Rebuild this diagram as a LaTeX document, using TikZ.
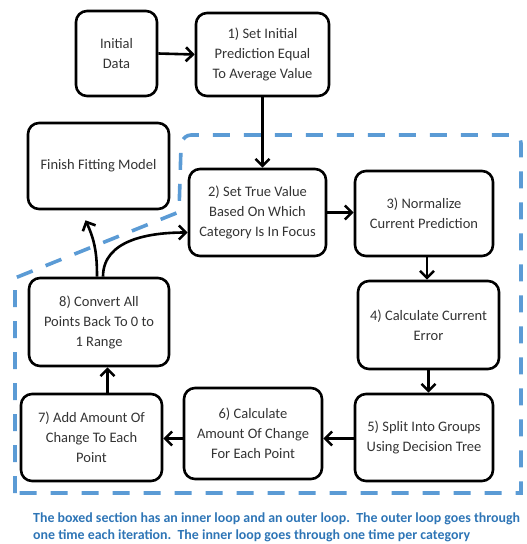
\documentclass[tikz,border=0pt]{standalone}
\usepackage{fontspec}
\setmainfont{Carlito}
\usetikzlibrary{arrows.meta}
\definecolor{loopblue}{RGB}{91,155,213}
\definecolor{noteblue}{RGB}{46,117,182}
\tikzset{
  stepbox/.style={draw, line width=2.6pt, rounded corners=11pt, align=center,
    inner sep=2pt, text=black!80, font=\fontsize{14.5}{20}\selectfont},
  flow/.style={line width=2.6pt, -{Straight Barb[length=7pt,width=14pt]}}
}

\begin{document}
\begin{tikzpicture}[x=1pt,y=-1pt]
\useasboundingbox (0,0) rectangle (527,544);
% the outer loop region
\draw[loopblue, line width=3.6pt, dash pattern=on 17pt off 14pt]
  (15,493) -- (15,278) -- (179,212) -- (181,147)
  [rounded corners=8pt] -- (183,135) -- (521,135) [sharp corners] -- (521,493) -- cycle;
% the steps
\node[stepbox, minimum width=81pt, minimum height=85pt] (data) at (116.5,53.5) {Initial\\Data};
\node[stepbox, minimum width=133pt, minimum height=83pt] (step1) at (262.5,54.5) {1) Set Initial\\Prediction Equal\\To Average Value};
\node[stepbox, minimum width=141pt, minimum height=86pt] (finish) at (98.5,166) {\raisebox{4pt}{Finish Fitting Model}};
\node[stepbox, minimum width=137pt, minimum height=87pt] (step2) at (257.5,212.5) {2) Set True Value\\Based On Which\\Category Is In Focus};
\node[stepbox, minimum width=138pt, minimum height=85pt] (step3) at (424,213.5) {3) Normalize\\Current Prediction};
\node[stepbox, minimum width=141pt, minimum height=88pt] (step4) at (428.5,325) {4) Calculate Current\\Error};
\node[stepbox, minimum width=140pt, minimum height=88pt] (step8) at (99,322) {8) Convert All\\Points Back To 0 to\\1 Range};
\node[stepbox, minimum width=141pt, minimum height=87pt] (step7) at (91.5,437.5) {7) Add Amount Of\\Change To Each\\Point};
\node[stepbox, minimum width=138pt, minimum height=91pt] (step6) at (253,433.5) {6) Calculate\\Amount Of Change\\For Each Point};
\node[stepbox, minimum width=138pt, minimum height=87pt] (step5) at (424,437.5) {5) Split Into Groups\\Using Decision Tree};
% connectors
\draw[flow] (data.east) -- (step1.west);
\draw[flow] (step1.south) -- (step1.south |- step2.north);
\draw[flow] (step2.east) -- (step2.east -| step3.west);
\draw[flow] ([xshift=3pt]step3.south) -- ([xshift=3pt]step3.south |- step4.north);
\draw[flow] (step4.south) -- (step4.south |- step5.north);
\draw[flow] ([yshift=-1pt]step5.west) -- ([yshift=-1pt]step5.west -| step6.east);
\draw[flow] ([yshift=-1pt]step6.west |- step7.east) -- ([yshift=-1pt]step7.east);
\draw[flow] ([xshift=16pt]step7.north) -- ([xshift=16pt]step7.north |- step8.south);
\draw[flow] ([xshift=-2pt]step8.north) to[out=90,in=-65] ([xshift=-13pt,yshift=-10pt]finish.south);
\draw[flow] ([xshift=4pt]step8.north) to[out=90,in=180] ([yshift=-20pt]step2.west);
% note under the picture
\node[anchor=north west, align=left, text=noteblue, inner sep=0pt,
  font=\bfseries\fontsize{13.9}{17}\selectfont] (note) at (33,513)
  {The boxed section has an inner loop and an outer loop.\ \ The outer loop goes through\\
   one time each iteration.\ \ The inner loop goes through one time per category};
\end{tikzpicture}
\end{document}
